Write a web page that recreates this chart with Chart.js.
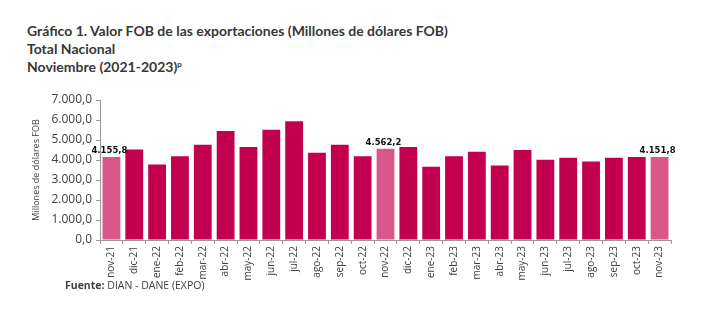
<!DOCTYPE html>
<html lang="es">
<head>
<meta charset="UTF-8">
<title>Valor FOB de las exportaciones</title>
<script src="https://cdn.jsdelivr.net/npm/chart.js@4/dist/chart.umd.min.js"></script>
<style>
  body { margin: 0; background: #fff; }
  #wrap { position: relative; width: 719px; height: 324px; overflow: hidden; }
  #titulo { position: absolute; left: 27px; top: 22px; font-family: Lato, sans-serif; font-weight: bold;
            font-size: 14px; line-height: 18px; color: #383838; }
  #titulo sup { font-size: 8px; line-height: 0; vertical-align: 5px; }
  #fuente { position: absolute; left: 65px; top: 278px; font-family: "Open Sans", sans-serif;
            font-size: 10.5px; color: #404040; }
  canvas { position: absolute; left: 0; top: 0; }
</style>
</head>
<body>
<div id="wrap">
  <div id="titulo">Gráfico 1. Valor FOB de las exportaciones (Millones de dólares FOB)<br>Total Nacional<br>Noviembre (2021-2023)<sup>p</sup></div>
  <canvas id="myChart" width="719" height="324"></canvas>
  <div id="fuente"><b>Fuente:</b> DIAN - DANE (EXPO)</div>
</div>
<script>
// meses nov-21 a nov-23
var meses = ['nov-21', 'dic-21', 'ene-22', 'feb-22', 'mar-22', 'abr-22', 'may-22', 'jun-22', 'jul-22',
  'ago-22', 'sep-22', 'oct-22', 'nov-22', 'dic-22', 'ene-23', 'feb-23', 'mar-23', 'abr-23', 'may-23',
  'jun-23', 'jul-23', 'ago-23', 'sep-23', 'oct-23', 'nov-23'];

// millones de dólares FOB
var valores = [4155.8, 4528, 3776, 4193, 4764, 5447, 4645, 5516, 5933, 4363, 4764, 4193, 4562.2,
  4645, 3661, 4193, 4413, 3726, 4494, 4012, 4112, 3927, 4112, 4145, 4151.8];

// meses de noviembre, resaltados y con etiqueta
var resaltados = ['nov-21', 'nov-22', 'nov-23'];

var colorBase = '#C2004F';
var colorNov = '#D9588A';

function fmt(v, dec) {
  return v.toLocaleString('de-DE', { minimumFractionDigits: dec, maximumFractionDigits: dec });
}

var etiquetas = {
  id: 'etiquetas',
  afterDatasetsDraw: function (chart) {
    var ctx = chart.ctx;
    var meta = chart.getDatasetMeta(0);
    ctx.save();
    ctx.font = 'bold 8.5px "DejaVu Sans", sans-serif';
    ctx.fillStyle = '#111';
    ctx.textAlign = 'center';
    ctx.textBaseline = 'bottom';
    meta.data.forEach(function (bar, i) {
      if (resaltados.indexOf(meses[i]) >= 0) {
        ctx.fillText(fmt(valores[i], 1), bar.x - 2, bar.y - 2);
      }
    });
    ctx.restore();
  }
};

var ctx = document.getElementById('myChart').getContext('2d');
var chart = new Chart(ctx, {
  type: 'bar',
  data: {
    labels: meses,
    datasets: [{
      data: valores,
      backgroundColor: meses.map(function (m) { return resaltados.indexOf(m) >= 0 ? colorNov : colorBase; }),
      categoryPercentage: 1,
      barPercentage: 0.78
    }]
  },
  options: {
    responsive: false,
    animation: false,
    layout: { padding: { top: 100, right: 48, left: 0, bottom: 0 } },
    plugins: { legend: { display: false }, tooltip: { enabled: false } },
    scales: {
      x: {
        afterFit: function (s) { s.height = 84; },
        grid: { offset: true, drawOnChartArea: false, tickLength: 4, color: '#999' },
        border: { color: '#999' },
        ticks: {
          minRotation: 90, maxRotation: 90, autoSkip: false, padding: 2,
          font: { family: '"Open Sans", sans-serif', size: 10 }, color: '#404040'
        }
      },
      y: {
        min: 0, max: 7000,
        afterFit: function (s) { s.width = 100; },
        grid: { drawOnChartArea: false, tickLength: 4, color: '#999' },
        border: { color: '#999' },
        ticks: {
          stepSize: 1000, padding: 4,
          font: { family: '"Open Sans", sans-serif', size: 12 }, color: '#404040',
          callback: function (v) { return fmt(v, 1); }
        },
        title: {
          display: true, text: 'Millones de dólares FOB', color: '#404040',
          font: { family: '"Open Sans", sans-serif', size: 9 },
          padding: { top: 31, bottom: 0 }
        }
      }
    }
  },
  plugins: [etiquetas]
});
</script>
</body>
</html>
